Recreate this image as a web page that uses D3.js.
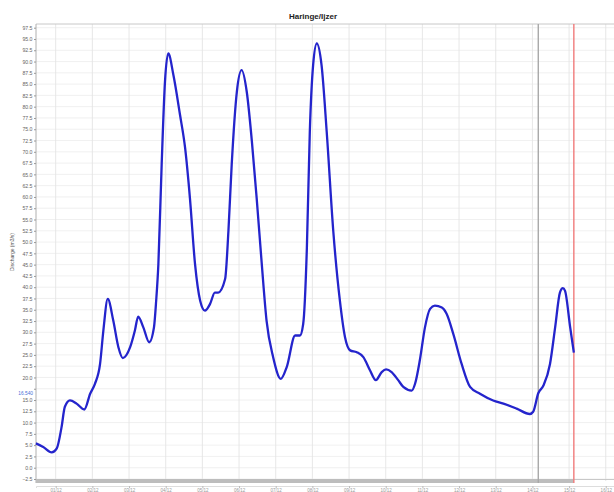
<!DOCTYPE html>
<html><head><meta charset="utf-8">
<script src="https://cdn.jsdelivr.net/npm/d3@7"></script>
<style>html,body{margin:0;padding:0;background:#fff;overflow:hidden}</style>
</head><body><svg id="c" width="614" height="492"></svg>
<script>
const title = "Haringe/Ijzer";
const yLabel = "Discharge (m3/s)";
const time = [0.46,0.66,0.89,1.03,1.16,1.25,1.39,1.57,1.78,1.94,
2.07,2.21,2.30,2.42,2.57,2.71,2.83,3.03,3.16,3.25,
3.39,3.55,3.68,3.74,3.80,3.89,3.98,4.07,4.21,4.39,
4.53,4.66,4.80,4.94,5.07,5.21,5.34,5.43,5.62,5.71,
5.80,5.94,6.07,6.21,6.35,6.48,6.62,6.75,6.93,7.14,
7.30,7.53,7.66,7.75,7.85,7.93,8.02,8.12,8.25,8.39,
8.57,8.75,8.89,9.03,9.21,9.39,9.57,9.73,9.89,10.01,
10.16,10.34,10.48,10.71,10.80,10.93,11.07,11.21,11.34,11.53,
11.66,11.84,12.07,12.30,12.57,12.93,13.21,13.57,13.93,14.02,
14.16,14.30,14.48,14.62,14.75,14.83,14.89,15.03,15.13];
const discharge = [5.4,4.6,3.4,4.3,9.0,13.5,14.9,14.2,12.9,16.4,
18.6,23.0,30.4,37.4,32.6,26.7,24.3,26.7,30.4,33.5,
31.1,27.8,31.1,37.0,45.1,67.2,85.5,91.8,87.0,78.2,
70.8,59.8,45.1,37.0,34.8,36.3,38.8,38.8,41.8,52.4,
67.2,83.3,88.1,83.3,72.3,59.8,45.1,32.6,24.5,19.7,
22.3,29.3,29.3,31.9,48.8,74.5,89.2,94.0,89.2,74.5,
52.4,37.0,28.9,26.0,25.6,24.5,21.6,19.4,21.2,21.8,
21.2,19.4,17.9,17.1,18.6,23.8,31.1,35.2,35.9,35.5,
34.1,29.7,23.0,17.9,16.4,14.9,14.2,13.1,11.9,12.4,
16.5,18.2,23.0,31.1,38.8,39.8,39.2,31.1,25.5];
const yTicks = [-2.5,0,2.5,5,7.5,10,12.5,15,17.5,20,22.5,25,27.5,30,32.5,35,37.5,40,42.5,45,47.5,50,52.5,55,57.5,60,62.5,65,67.5,70,72.5,75,77.5,80,82.5,85,87.5,90,92.5,95,97.5];
const xTicks = [1,2,3,4,5,6,7,8,9,10,11,12,13,14,15,16];
const xTickLabels = ["01/12","02/12","03/12","04/12","05/12","06/12","07/12","08/12","09/12","10/12","11/12","12/12","13/12","14/12","15/12","16/12"];
const cursorTime = 14.16, cursorValue = 16.540;
const nowTime = 15.13;

const svg = d3.select("#c");
const L = 36, R = 614, T = 24, B = 481;
const x = d3.scaleLinear().domain([0.463, 16.225]).range([L, R]);
const y = d3.scaleLinear().domain([-2.5, 97.5]).range([479, 27.7]);

// grid
svg.append("g").selectAll("line").data(yTicks).join("line")
  .attr("x1", L).attr("x2", R).attr("y1", d => y(d)).attr("y2", d => y(d))
  .attr("stroke", "#ececec").attr("stroke-width", 0.8);
svg.append("g").selectAll("line").data(xTicks).join("line")
  .attr("x1", d => x(d)).attr("x2", d => x(d)).attr("y1", T).attr("y2", B)
  .attr("stroke", "#e4e4e4").attr("stroke-width", 0.9);

// frame
svg.append("line").attr("x1", L).attr("x2", R).attr("y1", T).attr("y2", T).attr("stroke", "#c8c8c8").attr("stroke-width", 1);
svg.append("line").attr("x1", L).attr("x2", L).attr("y1", T).attr("y2", B + 2).attr("stroke", "#b0b0b0").attr("stroke-width", 1);

// y axis (label nearest the cursor value is replaced by the cursor label)
const ya = svg.append("g").attr("transform", `translate(${L},0)`)
  .call(d3.axisLeft(y).tickValues(yTicks).tickSize(2).tickPadding(1.5)
    .tickFormat(d => Math.abs(d - cursorValue) < 1.25 ? "" : d3.format(".1f")(d)));
ya.select(".domain").remove();
ya.selectAll("line").attr("stroke", "#999");
ya.selectAll("text").attr("font-family", "Liberation Sans, Arial, sans-serif").attr("font-size", 5.2).attr("fill", "#666");

// bottom bar
svg.append("line").attr("x1", L).attr("x2", x(nowTime)).attr("y1", 481).attr("y2", 481)
  .attr("stroke", "#bdbdbd").attr("stroke-width", 4);
svg.append("line").attr("x1", x(nowTime)).attr("x2", R).attr("y1", 479.5).attr("y2", 479.5)
  .attr("stroke", "#c8c8c8").attr("stroke-width", 1);

// x axis labels (tiny)
const xa = svg.append("g").attr("transform", `translate(0,486)`)
  .call(d3.axisBottom(x).tickValues(xTicks).tickSize(2).tickPadding(0.5).tickFormat((d, i) => xTickLabels[i]));
xa.select(".domain").attr("stroke", "#ddd");
xa.selectAll("line").attr("stroke", "#bbb");
xa.selectAll("text").attr("font-family", "Liberation Sans, Arial, sans-serif").attr("font-size", 4.5).attr("fill", "#999");

// vertical markers
svg.append("line").attr("x1", x(cursorTime)).attr("x2", x(cursorTime)).attr("y1", T).attr("y2", B + 2)
  .attr("stroke", "#a8a8a8").attr("stroke-width", 1.4);
svg.append("line").attr("x1", x(nowTime)).attr("x2", x(nowTime)).attr("y1", T).attr("y2", B + 2)
  .attr("stroke", "#f07a7a").attr("stroke-width", 1.4);

// line
const pts = time.map((t, i) => [t, discharge[i]]);
svg.append("path").datum(pts)
  .attr("d", d3.line().x(d => x(d[0])).y(d => y(d[1])).curve(d3.curveMonotoneX))
  .attr("fill", "none").attr("stroke", "#2424cc").attr("stroke-width", 2.3).attr("stroke-linejoin", "round");

// cursor value label
svg.append("text").attr("x", L - 3).attr("y", y(cursorValue) + 1.5).attr("text-anchor", "end")
  .attr("font-family", "Liberation Sans, Arial, sans-serif").attr("font-size", 4.8).attr("fill", "#4a6fd8")
  .text(d3.format(".3f")(cursorValue));

// title
svg.append("text").attr("x", 313).attr("y", 18.5).attr("text-anchor", "middle")
  .attr("font-family", "Liberation Sans, Arial, sans-serif").attr("font-weight", "bold").attr("font-size", 8).attr("fill", "#222")
  .text(title);

// y label
svg.append("text").attr("transform", `translate(13.5,252) rotate(-90)`).attr("text-anchor", "middle")
  .attr("font-family", "Liberation Sans, Arial, sans-serif").attr("font-size", 5).attr("fill", "#555")
  .text(yLabel);
</script></body></html>
